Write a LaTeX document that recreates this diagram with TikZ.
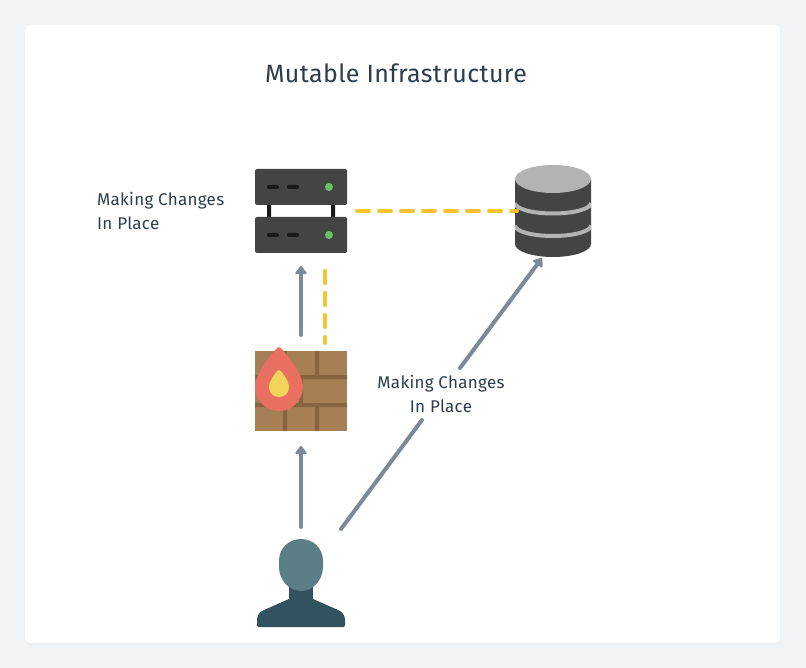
\documentclass[tikz,border=0pt]{standalone}
\usepackage{fontspec}
\setmainfont{Fira Sans}
\newfontfamily\titlefont[LetterSpace=1.5]{Fira Sans}
\newfontfamily\labelfont[LetterSpace=1.7]{Fira Sans}
\usetikzlibrary{calc,arrows.meta}
\definecolor{bgc}{HTML}{F0F4F7}
\definecolor{shadc}{HTML}{ECF0F3}
\definecolor{darkc}{HTML}{444444}
\definecolor{legc}{HTML}{1A1A1A}
\definecolor{ledc}{HTML}{6CC16A}
\definecolor{brickc}{HTML}{A67F54}
\definecolor{mortarc}{HTML}{88653F}
\definecolor{flamec}{HTML}{E96F61}
\definecolor{flameinc}{HTML}{F0D45B}
\definecolor{headc}{HTML}{5B7E87}
\definecolor{bodyc}{HTML}{33525F}
\definecolor{dbtopc}{HTML}{B3B3B3}
\definecolor{linec}{HTML}{7B8A99}
\definecolor{yelc}{HTML}{FAC22B}
\definecolor{textc}{HTML}{2C3E4E}
\tikzset{
  box/.style={minimum width=92pt,minimum height=84pt,inner sep=0pt,outer sep=0pt},
  lbl/.style={text=textc,font=\labelfont\fontsize{17}{24}\selectfont,align=center,inner sep=0pt},
  flow/.style={draw=linec,line width=4pt,line cap=round},
  flowtip/.style={flow,-{Triangle[length=9pt,width=13pt,round]}},
  dashy/.style={draw=yelc,line width=4pt,line cap=round,dash pattern=on 12pt off 10pt}
}
\begin{document}
\begin{tikzpicture}[x=1pt,y=-1pt]
\useasboundingbox (0,0) rectangle (806,668);
\fill[bgc] (0,0) rectangle (806,668);
\fill[shadc,rounded corners=6pt] (24,26) rectangle (781,645);
\fill[white,rounded corners=5pt] (25,25) rectangle (780,643);
% icons placement
\node[box] (server) at (301,211) {};
\node[box,minimum height=80pt] (firewall) at (301,391) {};
\node[box,minimum width=88pt,minimum height=88pt] (user) at (301,583) {};
\node[box,minimum width=76pt,minimum height=92pt] (db) at (553,211) {};
% server
\fill[legc] (267,200) rectangle (271,220) (331,200) rectangle (335,220);
\foreach \y in {169,217}{
  \fill[darkc,rounded corners=1.5pt] (255,\y) rectangle (347,\y+36);
  \fill[legc,rounded corners=2pt] (267,\y+16) rectangle (279,\y+20);
  \fill[legc,rounded corners=2pt] (287,\y+16) rectangle (299,\y+20);
  \fill[ledc] (329,\y+18) circle (4);
}
% firewall
\fill[brickc] (255,351) rectangle (347,431);
\fill[mortarc] (255,375) rectangle (347,379) (255,403) rectangle (347,407)
  (283,351) rectangle (287,375) (315,351) rectangle (319,375)
  (299,379) rectangle (303,403)
  (283,407) rectangle (287,431) (315,407) rectangle (319,431);
\fill[flamec] (279,347) .. controls (277,347) and (255,372) .. (255,387)
  .. controls (255,400) and (266,411) .. (279,411)
  .. controls (292,411) and (303,400) .. (303,387)
  .. controls (303,372) and (281,347) .. (279,347) -- cycle;
\fill[flameinc] (279,370) .. controls (277,370) and (269,381) .. (269,387)
  .. controls (269,393) and (273,397) .. (279,397)
  .. controls (285,397) and (289,393) .. (289,387)
  .. controls (289,381) and (281,370) .. (279,370) -- cycle;
% user
\fill[bodyc] (289,580) rectangle (313,601);
\fill[bodyc] (289,599) -- (313,599) -- (338,610) .. controls (343,612) and (345,616) .. (345,620)
  -- (345,625) .. controls (345,626.5) and (344,627) .. (343,627) -- (259,627)
  .. controls (258,627) and (257,626.5) .. (257,625) -- (257,620)
  .. controls (257,616) and (259,612) .. (264,610) -- cycle;
\fill[headc] (279,561) .. controls (279,548) and (289,539) .. (301,539)
  .. controls (313,539) and (323,548) .. (323,561) -- (323,567)
  .. controls (323,580) and (313,591) .. (301,591)
  .. controls (289,591) and (279,580) .. (279,567) -- cycle;
% database
\fill[darkc] (515,179) -- (515,244) arc[start angle=180,end angle=0,x radius=38,y radius=13] -- (591,179) -- cycle;
\begin{scope}
\clip (515,179) rectangle (591,257);
\draw[dbtopc,line width=4pt] (515,203) arc[start angle=180,end angle=0,x radius=38,y radius=10.5];
\draw[dbtopc,line width=4pt] (515,225.5) arc[start angle=180,end angle=0,x radius=38,y radius=10.5];
\end{scope}
\fill[dbtopc] (553,179) ellipse[x radius=38,y radius=14];
% connection points
\coordinate (a1) at ($(firewall.north)+(0,-16)$);
\coordinate (a2) at ($(server.south)+(0,13)$);
\coordinate (b1) at ($(user.north)+(0,-12)$);
\coordinate (b2) at ($(firewall.south)+(0,15)$);
\coordinate (c1) at ($(user.north)+(40,-10)$);
\coordinate (c2) at (422,420);
\coordinate (c3) at (460,368);
\coordinate (c4) at ($(db.south)+(-11,1)$);
\coordinate (d1) at ($(server.east)+(10,0)$);
\coordinate (d2) at ($(db.west)+(2,0)$);
\coordinate (e1) at ($(firewall.north)+(24,-8)$);
\coordinate (e2) at ($(server.south)+(24,18)$);
% connectors
\draw[flowtip] (a1) -- (a2);
\draw[flowtip] (b1) -- (b2);
\draw[flow] (c1) -- (c2);
\draw[flowtip] (c3) -- (c4);
\draw[dashy] (d1) -- (d2);
\draw[dashy] (e2) -- (e1);
% text
\node[text=textc,font=\titlefont\fontsize{25}{28}\selectfont,inner sep=0pt] (title) at (396,73) {Mutable Infrastructure};
\node[lbl,align=left,anchor=west] (lab1) at (97,211) {Making Changes\\In Place};
\node[lbl] (lab2) at (441,394) {Making Changes\\In Place};
\end{tikzpicture}
\end{document}
